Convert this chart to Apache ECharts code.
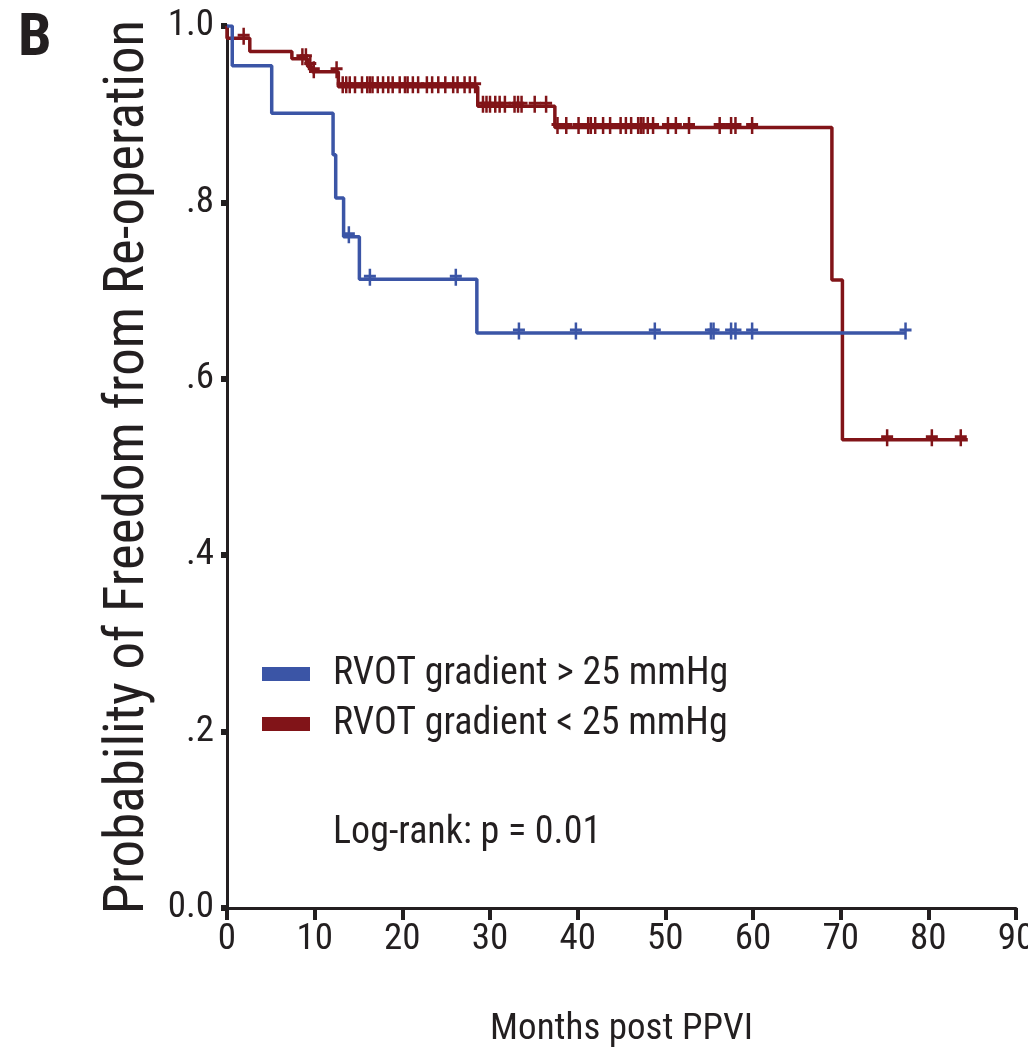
<!DOCTYPE html>
<html>
<head>
<meta charset="utf-8">
<script src="https://cdn.jsdelivr.net/npm/echarts@6/dist/echarts.min.js"></script>
<style>
html,body{margin:0;padding:0;background:#fff;}
#chart{width:1028px;height:1055px;}
</style>
</head>
<body>
<div id="chart"></div>
<script>
// ---- data ----
const seriesNames = ['RVOT gradient > 25 mmHg', 'RVOT gradient < 25 mmHg'];
// Kaplan-Meier steps: [time (months), survival after step]
const blueSteps = [[0,1],[0.6,0.955],[5.1,0.901],[12.1,0.854],[12.4,0.805],[13.3,0.761],[15.1,0.713],[28.5,0.652],[77.4,0.652]];
const redSteps = [[0,1],[0,0.986],[2.6,0.971],[7.4,0.963],[9.2,0.954],[9.7,0.948],[12.7,0.931],[28.6,0.909],[37.4,0.885],[69.0,0.712],[70.2,0.531],[84.5,0.531]];
// censored times
const blueCensor = [13.9,16.3,26.1,33.3,39.8,48.8,55.2,55.5,57.5,58.0,59.9,77.4];
const redCensor = [1.9,8.6,9.0,9.5,9.9,12.5,13.2,13.6,14.0,14.6,15.4,16.0,16.3,16.6,17.2,17.8,18.4,18.9,19.7,20.3,20.6,21.2,21.8,22.8,23.4,24.1,24.9,25.8,26.3,27.1,27.7,28.3,29.2,29.6,30.0,30.6,31.1,31.7,32.8,33.2,33.6,35.1,36.4,37.7,38.7,40.1,41.2,41.5,42.0,42.9,43.7,44.9,45.5,46.1,46.9,47.2,47.5,48.0,48.6,50.3,51.2,52.7,56.2,57.5,58.0,59.9,75.3,80.4,83.7];
const yTickLabels = {0:'0.0', 0.2:'.2', 0.4:'.4', 0.6:'.6', 0.8:'.8', 1:'1.0'};
const xTicks = [0,10,20,30,40,50,60,70,80,90];
const logRankText = 'Log-rank: p = 0.01';
const panelLabel = 'B';

// ---- helpers ----
function survAt(steps, t){
  let s = steps[0][1];
  for (const p of steps){ if (p[0] <= t) s = p[1]; }
  return s;
}
const blueColor = '#3b55a6';
const redColor = '#811418';
const ink = '#231f20';
const font = '"Roboto Condensed", "Liberation Sans Narrow", "Arial Narrow", "DejaVu Sans Condensed", sans-serif';
const plusPath = 'path://M4.75,0 L7.25,0 L7.25,6 L12,6 L12,9 L7.25,9 L7.25,17 L4.75,17 L4.75,9 L0,9 L0,6 L4.75,6 Z';

const chart = echarts.init(document.getElementById('chart'), null, {renderer:'canvas'});
chart.setOption({
  animation:false,
  backgroundColor:'#fff',
  grid:{left:227, right:12, top:26, bottom:147, containLabel:false, outerBoundsMode:'none'},
  xAxis:{
    type:'value', min:0, max:90, interval:10,
    name:'Months post PPVI', nameLocation:'middle', nameGap:103,
    nameTextStyle:{fontFamily:font, fontSize:37, color:ink},
    axisLine:{show:true, lineStyle:{color:ink, width:3}},
    axisTick:{show:true, length:12, lineStyle:{color:ink, width:4}},
    axisLabel:{margin:13, fontFamily:font, fontSize:37, color:ink, formatter:v=>String(v)},
    splitLine:{show:false}
  },
  yAxis:{
    type:'value', min:0, max:1, interval:0.2,
    name:'Probability of Freedom from Re-operation', nameLocation:'middle', nameRotate:90, nameGap:70,
    nameTextStyle:{fontFamily:font, fontSize:55, color:ink},
    axisLine:{show:true, lineStyle:{color:ink, width:3}},
    axisTick:{show:true, length:6, lineStyle:{color:ink, width:6}},
    axisLabel:{margin:13, fontFamily:font, fontSize:37, color:ink, formatter:v=>yTickLabels[Math.round(v*10)/10]},
    splitLine:{show:false}
  },
  legend:{
    data:seriesNames.map(n=>({name:n, icon:'rect'})),
    orient:'vertical', left:262, top:654, padding:0, itemWidth:48, itemHeight:14, itemGap:10,
    textStyle:{fontFamily:font, fontSize:38, lineHeight:40, color:ink, padding:[0,0,0,18]},
    selectedMode:false
  },
  graphic:[
    {type:'text', x:333, y:833, style:{text:logRankText, fontFamily:font, fontSize:38, fill:ink, verticalAlign:'middle'}},
    {type:'text', x:18, y:40, style:{text:panelLabel, fontFamily:font, fontSize:60, fontWeight:'bold', fill:ink, verticalAlign:'middle'}}
  ],
  series:[
    {name:seriesNames[0], type:'line', step:'end', data:blueSteps, showSymbol:false, symbol:'none',
     lineStyle:{color:blueColor, width:3.5}, itemStyle:{color:blueColor}, z:3},
    {name:seriesNames[1], type:'line', step:'end', data:redSteps, showSymbol:false, symbol:'none',
     lineStyle:{color:redColor, width:3.5}, itemStyle:{color:redColor}, z:2},
    {name:'blueCensor', type:'scatter', data:blueCensor.map(t=>[t, survAt(blueSteps,t)]),
     symbol:plusPath, symbolSize:[12,17], symbolOffset:[0,-2], itemStyle:{color:blueColor, opacity:1}, z:5},
    {name:'redCensor', type:'scatter', data:redCensor.map(t=>[t, survAt(redSteps,t)]),
     symbol:plusPath, symbolSize:[12,17], symbolOffset:[0,-2], itemStyle:{color:redColor, opacity:1}, z:4}
  ]
});
</script>
</body>
</html>
